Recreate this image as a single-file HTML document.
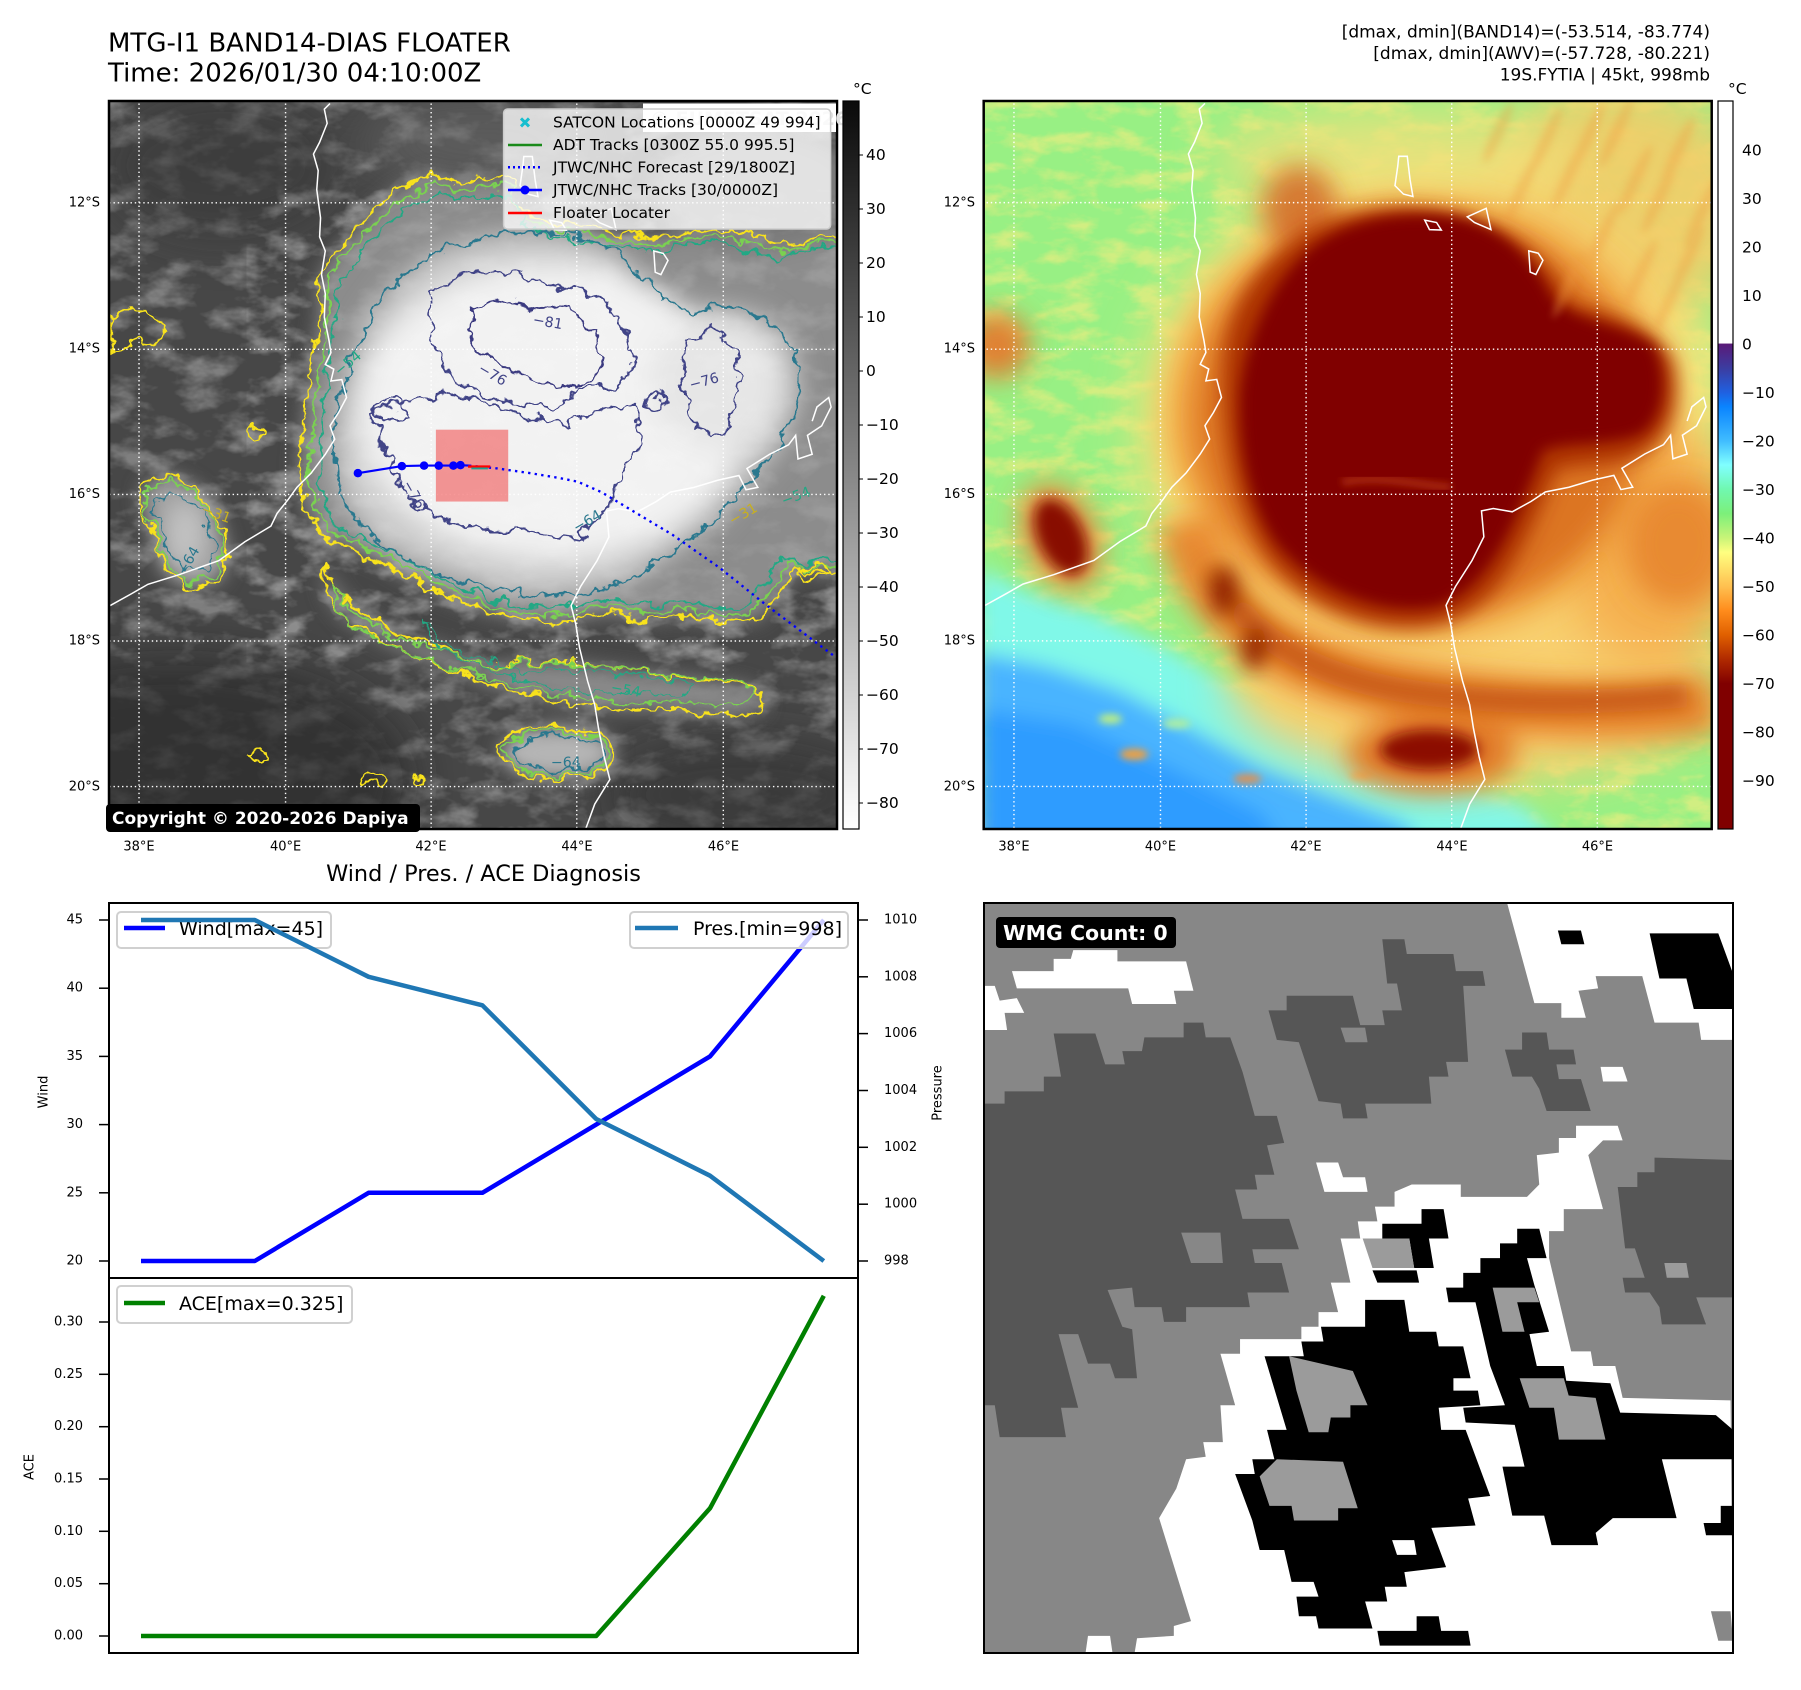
<!DOCTYPE html>
<html><head><meta charset="utf-8"><style>
html,body{margin:0;padding:0;background:#fff;}
svg{display:block;}
text{font-family:"DejaVu Sans","Liberation Sans",sans-serif;}
</style></head><body>
<svg width="1801" height="1690" viewBox="0 0 1801 1690" xmlns="http://www.w3.org/2000/svg">
<defs>
 <linearGradient id="gcb" x1="0" y1="0" x2="0" y2="1"><stop offset="0" stop-color="#0a0a0a"/><stop offset="1" stop-color="#ffffff"/></linearGradient>
 <linearGradient id="jcb" x1="0" y1="0" x2="0" y2="1">
  <stop offset="0" stop-color="#fff"/><stop offset="0.333" stop-color="#fff"/><stop offset="0.3335" stop-color="#5a1a78"/>
  <stop offset="0.3667" stop-color="#3c3ca0"/><stop offset="0.40" stop-color="#2060e0"/><stop offset="0.42" stop-color="#0a84ff"/>
  <stop offset="0.4667" stop-color="#40bcff"/><stop offset="0.50" stop-color="#80ffff"/><stop offset="0.5333" stop-color="#70f8b0"/>
  <stop offset="0.5667" stop-color="#7cf07a"/><stop offset="0.60" stop-color="#c8f478"/><stop offset="0.62" stop-color="#ffff80"/>
  <stop offset="0.6667" stop-color="#ffc050"/><stop offset="0.70" stop-color="#ff8c1c"/><stop offset="0.7333" stop-color="#e06000"/>
  <stop offset="0.7667" stop-color="#b02a00"/><stop offset="0.80" stop-color="#800000"/><stop offset="1" stop-color="#800000"/>
 </linearGradient>
 <filter id="b5" x="-30%" y="-30%" width="160%" height="160%"><feGaussianBlur stdDeviation="5"/></filter>
 <filter id="b8" x="-30%" y="-30%" width="160%" height="160%"><feGaussianBlur stdDeviation="8"/></filter>
 <filter id="b14" x="-30%" y="-30%" width="160%" height="160%"><feGaussianBlur stdDeviation="14"/></filter>
 <filter id="b20" x="-30%" y="-30%" width="160%" height="160%"><feGaussianBlur stdDeviation="20"/></filter>
 <filter id="b28" x="-30%" y="-30%" width="160%" height="160%"><feGaussianBlur stdDeviation="28"/></filter>
 <filter id="b35" x="-30%" y="-30%" width="160%" height="160%"><feGaussianBlur stdDeviation="35"/></filter>
 <filter id="b50" x="-40%" y="-40%" width="180%" height="180%"><feGaussianBlur stdDeviation="50"/></filter>
 <filter id="wig" x="-5%" y="-5%" width="110%" height="110%" color-interpolation-filters="sRGB">
  <feTurbulence type="fractalNoise" baseFrequency="0.03" numOctaves="3" seed="4" result="n"/>
  <feDisplacementMap in="SourceGraphic" in2="n" scale="40" xChannelSelector="R" yChannelSelector="G"/>
 </filter>
 <filter id="tx" x="0" y="0" width="1" height="1" color-interpolation-filters="sRGB">
  <feTurbulence type="fractalNoise" baseFrequency="0.012 0.02" numOctaves="4" seed="11"/>
  <feColorMatrix type="matrix" values="0 0 0 0 1  0 0 0 0 1  0 0 0 0 1  3 0 0 0 -1.35"/>
 </filter>
 <filter id="tx2" x="0" y="0" width="1" height="1" color-interpolation-filters="sRGB">
  <feTurbulence type="fractalNoise" baseFrequency="0.012 0.025" numOctaves="4" seed="5"/>
  <feColorMatrix type="matrix" values="0 0 0 0 0.97  0 0 0 0 0.93  0 0 0 0 0.5  3 0 0 0 -1.3"/>
 </filter>
 <path id="Y1" d="M455,470 L450,400 L480,340 L520,300 L570,240 L620,200 L690,165 L740,190 L790,175 L860,180 L870,240 L940,270 L1040,285 L1130,300 L1200,300 L1250,285 L1320,285 L1390,300 L1450,320 L1520,300 L1620,290 L1620,1000 L1520,1015 L1460,1000 L1430,1060 L1380,1110 L1300,1115 L1220,1100 L1140,1110 L1060,1095 L980,1115 L890,1110 L800,1090 L720,1060 L650,1025 L590,990 L520,960 L460,930 L420,870 L410,780 L420,700 L430,620 L440,540 Z"/>
 <path id="Y2" d="M460,990 L500,1060 L560,1110 L640,1150 L720,1170 L800,1210 L880,1200 L960,1200 L1040,1210 L1120,1220 L1200,1230 L1280,1240 L1360,1250 L1400,1280 L1380,1310 L1300,1310 L1200,1300 L1100,1300 L1000,1290 L900,1270 L820,1250 L740,1220 L660,1190 L580,1150 L510,1110 L470,1060 Z"/>
 <path id="T1" d="M500,620 L520,560 L560,470 L620,390 L700,330 L800,300 L900,290 L1000,300 L1080,330 L1150,400 L1220,460 L1300,450 L1400,470 L1460,540 L1470,640 L1430,740 L1360,820 L1290,900 L1200,970 L1100,1030 L1000,1055 L900,1060 L800,1040 L700,1010 L600,960 L530,900 L490,820 L480,720 Z"/>
 <path id="LB" d="M80,830 L130,800 L190,830 L240,900 L265,980 L240,1030 L175,1042 L125,1000 L100,920 L78,870 Z"/>
 <path id="COAST" d="M480,18 L468,30 L474,60 L458,100 L445,125 L455,160 L452,200 L460,260 L458,300 L470,330 L462,380 L470,420 L468,470 L478,520 L482,545 L470,570 L488,580 L482,605 L505,602 L515,640 L498,672 L480,700 L490,728 L470,760 L440,800 L410,830 L392,855 L368,885 L355,912 L300,945 L245,985 L160,1015 L95,1035 L60,1055 L15,1080 M1020,1555 L1040,1500 L1072,1448 L1060,1400 L1048,1340 L1040,1290 L1025,1240 L1008,1170 L1000,1120 L990,1080 L1010,1040 L1045,985 L1070,935 L1065,880 L1090,875 L1130,882 L1170,860 L1200,840 L1250,830 L1300,815 L1345,805 L1360,835 L1385,830 L1362,790 L1410,760 L1450,740 L1465,720 L1470,770 L1500,760 L1490,720 L1520,700 L1540,660 L1535,640 L1510,660 L1500,690 M890,130 L908,130 L914,180 L920,215 L900,210 L882,192 L888,150 Z M945,265 L970,270 L980,286 L955,285 Z M1035,258 L1075,240 L1085,285 L1050,270 Z M1165,330 L1185,335 L1195,350 L1180,380 L1168,375 Z"/>
 <g id="GRIDH" stroke="#fff" stroke-width="3" stroke-dasharray="3 6" fill="none">
  <line x1="0" y1="228" x2="1600" y2="228"/><line x1="0" y1="538" x2="1600" y2="538"/><line x1="0" y1="845" x2="1600" y2="845"/><line x1="0" y1="1155" x2="1600" y2="1155"/><line x1="0" y1="1463" x2="1600" y2="1463"/>
 </g>
</defs>

<!-- Titles -->
<text x="108" y="51.5" font-size="26">MTG-I1 BAND14-DIAS FLOATER</text>
<text x="108" y="81.5" font-size="26">Time: 2026/01/30 04:10:00Z</text>
<g font-size="17" text-anchor="end">
 <text x="1710" y="37.5">[dmax, dmin](BAND14)=(-53.514, -83.774)</text>
 <text x="1710" y="59">[dmax, dmin](AWV)=(-57.728, -80.221)</text>
 <text x="1710" y="80.5">19S.FYTIA | 45kt, 998mb</text>
</g>

<!-- LEFT MAP -->
<svg x="109" y="101" width="728" height="728" viewBox="8.5 12.7 1540 1540">
 <rect x="0" y="0" width="1600" height="1600" fill="#474747"/>
 <rect x="0" y="0" width="1600" height="1600" filter="url(#tx)" opacity="0.3"/>
 <g filter="url(#b50)">
  <ellipse cx="150" cy="1450" rx="500" ry="260" fill="#2a2a2a" opacity="0.7"/>
  <ellipse cx="1350" cy="1480" rx="300" ry="120" fill="#303030" opacity="0.6"/>
  <ellipse cx="250" cy="150" rx="250" ry="150" fill="#383838" opacity="0.6"/>
  <ellipse cx="800" cy="100" rx="250" ry="100" fill="#6a6a6a" opacity="0.6"/>
 </g>
 <g filter="url(#b20)">
  <use href="#Y1" fill="#8c8c8c"/>
  <use href="#Y2" fill="#8a8a8a"/>
  <ellipse cx="958" cy="1392" rx="120" ry="55" fill="#b5b5b5"/>
  <use href="#LB" fill="#9c9c9c"/>
  <ellipse cx="1380" cy="200" rx="220" ry="130" fill="#7a7a7a"/>
 </g>
 <g filter="url(#b28)">
  <use href="#T1" fill="#cdcdcd"/>
  <ellipse cx="945" cy="670" rx="410" ry="310" fill="#f2f2f2"/>
  <ellipse cx="1290" cy="610" rx="140" ry="140" fill="#e6e6e6"/>
  <ellipse cx="170" cy="930" rx="45" ry="80" fill="#c4c4c4"/>
 </g>
 <rect x="300" y="200" width="1300" height="1000" filter="url(#tx)" opacity="0.12"/>
 <g filter="url(#wig)" fill="none" stroke-width="4.5" stroke-linejoin="round">
  <use href="#Y1" stroke="#f8e21c"/>
  <use href="#Y1" stroke="#7ad151" transform="translate(980 700) scale(0.965) translate(-980 -700)"/>
  <use href="#Y1" stroke="#22a884" transform="translate(980 700) scale(0.93) translate(-980 -700)"/>
  <use href="#T1" stroke="#2a788e"/>
  <use href="#Y2" stroke="#f8e21c"/>
  <use href="#Y2" stroke="#7ad151" transform="translate(930 1210) scale(0.95 0.8) translate(-930 -1210)"/>
  <use href="#Y2" stroke="#22a884" transform="translate(1000 1230) scale(0.6 0.5) translate(-1000 -1230)"/>
  <ellipse cx="958" cy="1392" rx="122" ry="55" stroke="#f8e21c"/>
  <ellipse cx="958" cy="1392" rx="110" ry="47" stroke="#7ad151"/>
  <ellipse cx="962" cy="1392" rx="92" ry="36" stroke="#2a788e"/>
  <use href="#LB" stroke="#f8e21c"/>
  <use href="#LB" stroke="#7ad151" transform="translate(170 920) scale(0.9) translate(-170 -920)"/>
  <use href="#LB" stroke="#2a788e" transform="translate(170 930) scale(0.7) translate(-170 -930)"/>
  <path stroke="#414487" d="M690,420 L760,380 L860,370 L920,400 L1000,410 L1060,440 L1100,500 L1120,560 L1100,600 L1060,620 L1000,620 L950,660 L880,650 L800,640 L740,600 L700,540 L680,470 Z"/>
  <path stroke="#414487" d="M560,670 L640,650 L720,630 L800,650 L900,680 L980,700 L1060,660 L1120,660 L1140,740 L1090,800 L1060,880 L1000,940 L940,930 L880,920 L800,920 L720,900 L660,870 L620,820 L600,760 Z"/>
  <path stroke="#414487" d="M1230,520 L1290,490 L1330,540 L1340,620 L1320,700 L1280,730 L1240,690 L1220,600 Z"/>
  <path stroke="#3b3a80" d="M780,450 L850,430 L900,460 L980,450 L1040,500 L1050,560 L1030,610 L960,620 L900,600 L850,580 L790,540 L770,500 Z"/>
  <path stroke="#414487" d="M560,660 L620,645 L640,680 L590,690 Z"/>
  <circle cx="1165" cy="650" r="20" stroke="#414487"/>
  <path stroke="#f8e21c" d="M10,470 L60,450 L100,470 L130,500 L110,530 L60,520 L20,560 Z"/>
  <ellipse cx="320" cy="712" rx="18" ry="10" stroke="#f8e21c"/>
  <ellipse cx="325" cy="1398" rx="20" ry="12" stroke="#f8e21c"/>
  <ellipse cx="570" cy="1447" rx="25" ry="10" stroke="#f8e21c"/>
  <ellipse cx="668" cy="1450" rx="15" ry="8" stroke="#f8e21c"/>
  <ellipse cx="1500" cy="1010" rx="30" ry="12" stroke="#f8e21c"/>
 </g>
 <g font-size="30" text-anchor="middle">
  <text x="935" y="490" fill="#414487" transform="rotate(10 935 490)">−81</text>
  <text x="815" y="600" fill="#414487" transform="rotate(30 815 600)">−76</text>
  <text x="1270" y="615" fill="#414487" transform="rotate(-15 1270 615)">−76</text>
  <text x="645" y="850" fill="#414487" transform="rotate(60 645 850)">−76</text>
  <text x="520" y="575" fill="#22a884" transform="rotate(-40 520 575)">−54</text>
  <text x="975" y="1422" fill="#2a788e">−64</text>
  <text x="1100" y="1268" fill="#22a884" transform="rotate(10 1100 1268)">−54</text>
  <text x="1025" y="910" fill="#2a788e" transform="rotate(-30 1025 910)">−64</text>
  <text x="1355" y="895" fill="#c8b020" transform="rotate(-30 1355 895)">−31</text>
  <text x="1465" y="858" fill="#22a884" transform="rotate(-20 1465 858)">−54</text>
  <text x="232" y="895" fill="#c8b020" transform="rotate(20 232 895)">−31</text>
  <text x="185" y="990" fill="#2a788e" transform="rotate(-60 185 990)">−64</text>
 </g>
 <g stroke="#fff" stroke-width="3" stroke-dasharray="3 6">
  <line x1="72" y1="0" x2="72" y2="1600"/><line x1="382" y1="0" x2="382" y2="1600"/><line x1="690" y1="0" x2="690" y2="1600"/><line x1="998" y1="0" x2="998" y2="1600"/><line x1="1308" y1="0" x2="1308" y2="1600"/>
 </g>
 <use href="#GRIDH"/>
 <use href="#COAST" fill="none" stroke="#fff" stroke-width="3.2" transform="translate(-4 0)"/>
 <rect x="700" y="708" width="153" height="152" fill="rgb(240,70,70)" fill-opacity="0.55"/>
 <polyline points="770,784 830,790 900,800 960,810 1000,818 1050,840 1100,870 1200,930 1300,1000 1400,1080 1480,1140 1560,1200" fill="none" stroke="#0000ff" stroke-width="5" stroke-dasharray="5 9"/>
 <polyline points="535,800 628,785 675,784 706,784 737,784 752,783 770,784" fill="none" stroke="#0000ff" stroke-width="4.5"/>
 <g fill="#0000ff"><circle cx="535" cy="800" r="9"/><circle cx="628" cy="785" r="9"/><circle cx="675" cy="784" r="9"/><circle cx="706" cy="784" r="9"/><circle cx="737" cy="784" r="9"/><circle cx="752" cy="783" r="9"/></g>
 <line x1="768" y1="786" x2="815" y2="786" stroke="#ff0000" stroke-width="5"/>
 <line x1="775" y1="790" x2="810" y2="790" stroke="#20a090" stroke-width="4"/>
</svg>
<rect x="109" y="101" width="728" height="728" fill="none" stroke="#000" stroke-width="2.5"/>
<!-- watermark + legend -->
<rect x="643" y="103.5" width="193" height="28.5" fill="#fff"/>
<text x="650" y="125" font-size="19" font-weight="bold" fill="#e2e2e2">© EUMETSAT 2026</text>
<rect x="503.6" y="109" width="327" height="120" rx="4" fill="#fff" fill-opacity="0.78" stroke="#cccccc" stroke-width="1.5"/>
<g stroke-width="2.5">
 <line x1="521" y1="118.4" x2="529" y2="126.4" stroke="#17becf" stroke-width="3"/><line x1="529" y1="118.4" x2="521" y2="126.4" stroke="#17becf" stroke-width="3"/>
 <line x1="508" y1="145" x2="542" y2="145" stroke="#1a8a1a"/>
 <line x1="508" y1="167.3" x2="542" y2="167.3" stroke="#0000ff" stroke-dasharray="2 3"/>
 <line x1="508" y1="190" x2="542" y2="190" stroke="#0000ff"/><circle cx="525" cy="190" r="4.5" fill="#0000ff" stroke="none"/>
 <line x1="508" y1="213" x2="542" y2="213" stroke="#ff0000"/>
</g>
<g font-size="15.5" dominant-baseline="central">
 <text x="553" y="122.4">SATCON Locations [0000Z 49 994]</text>
 <text x="553" y="145">ADT Tracks [0300Z 55.0 995.5]</text>
 <text x="553" y="167.3">JTWC/NHC Forecast [29/1800Z]</text>
 <text x="553" y="190">JTWC/NHC Tracks [30/0000Z]</text>
 <text x="553" y="213">Floater Locater</text>
</g>
<rect x="106" y="804" width="314" height="28" rx="4" fill="#000"/>
<text x="112" y="824" font-size="17" font-weight="bold" fill="#fff">Copyright © 2020-2026 Dapiya</text>

<!-- map ticks -->
<g font-size="13" text-anchor="end" dominant-baseline="central">
 <text x="100" y="203">12°S</text><text x="100" y="349">14°S</text><text x="100" y="494.5">16°S</text><text x="100" y="641">18°S</text><text x="100" y="787">20°S</text>
 <text x="975" y="203">12°S</text><text x="975" y="349">14°S</text><text x="975" y="494.5">16°S</text><text x="975" y="641">18°S</text><text x="975" y="787">20°S</text>
</g>
<g font-size="13" text-anchor="middle" dominant-baseline="central">
 <text x="139" y="847">38°E</text><text x="285.6" y="847">40°E</text><text x="431" y="847">42°E</text><text x="577" y="847">44°E</text><text x="723.5" y="847">46°E</text>
 <text x="1014" y="847">38°E</text><text x="1160.5" y="847">40°E</text><text x="1306" y="847">42°E</text><text x="1452" y="847">44°E</text><text x="1597.5" y="847">46°E</text>
</g>

<!-- left colorbar -->
<rect x="843" y="101" width="16" height="728" fill="url(#gcb)" stroke="#000" stroke-width="1.2"/>
<text x="853" y="94" font-size="15.5">°C</text>
<g stroke="#000" stroke-width="1">
 <line x1="859" y1="155" x2="863" y2="155"/><line x1="859" y1="209" x2="863" y2="209"/><line x1="859" y1="263" x2="863" y2="263"/><line x1="859" y1="317" x2="863" y2="317"/><line x1="859" y1="371" x2="863" y2="371"/><line x1="859" y1="425" x2="863" y2="425"/><line x1="859" y1="479" x2="863" y2="479"/><line x1="859" y1="533" x2="863" y2="533"/><line x1="859" y1="587" x2="863" y2="587"/><line x1="859" y1="641" x2="863" y2="641"/><line x1="859" y1="695" x2="863" y2="695"/><line x1="859" y1="749" x2="863" y2="749"/><line x1="859" y1="803" x2="863" y2="803"/>
</g>
<g font-size="15.5" dominant-baseline="central">
 <text x="866" y="155">40</text><text x="866" y="209">30</text><text x="866" y="263">20</text><text x="866" y="317">10</text><text x="866" y="371">0</text><text x="866" y="425">−10</text><text x="866" y="479">−20</text><text x="866" y="533">−30</text><text x="866" y="587">−40</text><text x="866" y="641">−50</text><text x="866" y="695">−60</text><text x="866" y="749">−70</text><text x="866" y="803">−80</text>
</g>

<!-- RIGHT MAP -->
<svg x="983.7" y="101" width="728" height="728" viewBox="12 13 1540 1540">
 <rect x="0" y="0" width="1600" height="1600" fill="#98f084"/>
 <rect x="0" y="0" width="1600" height="1600" filter="url(#tx2)" opacity="0.6"/>
 <g filter="url(#b20)">
  <path d="M0,1000 L100,1050 L250,1100 L400,1170 L550,1260 L700,1330 L850,1400 L1000,1450 L1150,1500 L1250,1600 L0,1600 Z" fill="#80f8e8"/>
  <path d="M0,1180 L150,1210 L300,1260 L450,1340 L600,1420 L750,1480 L900,1540 L950,1600 L0,1600 Z" fill="#48b4ff"/>
  <path d="M0,1300 L200,1330 L400,1420 L600,1520 L650,1600 L0,1600 Z" fill="#2d9cff"/>
 </g>
 <g filter="url(#b8)">
  <ellipse cx="330" cy="1395" rx="30" ry="12" fill="#f0a040"/>
  <ellipse cx="280" cy="1320" rx="25" ry="10" fill="#c0f080"/>
  <ellipse cx="570" cy="1447" rx="30" ry="10" fill="#e09050"/>
  <ellipse cx="810" cy="1440" rx="25" ry="8" fill="#f0b060"/>
  <ellipse cx="420" cy="1330" rx="30" ry="10" fill="#b0f0a0"/>
 </g>
 <g filter="url(#b50)">
  <ellipse cx="960" cy="700" rx="620" ry="540" fill="#fbe27a"/>
  <ellipse cx="1050" cy="1250" rx="520" ry="200" fill="#f8d070"/>
  <ellipse cx="1430" cy="950" rx="200" ry="260" fill="#f5b050"/>
  <ellipse cx="1350" cy="230" rx="300" ry="250" fill="#f4cc68" opacity="0.9"/>
  <ellipse cx="880" cy="140" rx="380" ry="110" fill="#f2e07a" opacity="0.8"/>
 </g>
 <g filter="url(#b35)">
  <ellipse cx="930" cy="680" rx="530" ry="460" fill="#f0a040"/>
 </g>
 <g filter="url(#b28)">
  <ellipse cx="930" cy="680" rx="470" ry="420" fill="#dc7422"/>
  <path d="M440,900 C470,1080 620,1200 850,1250 C1050,1290 1300,1320 1560,1290" fill="none" stroke="#e88028" stroke-width="120" opacity="0.9"/>
  <ellipse cx="960" cy="1395" rx="180" ry="80" fill="#e07828"/>
  <ellipse cx="175" cy="935" rx="80" ry="120" fill="#e89040" transform="rotate(-25 175 935)"/>
  <ellipse cx="40" cy="530" rx="70" ry="70" fill="#e08030"/>
  <ellipse cx="1480" cy="950" rx="110" ry="130" fill="#e88a30"/>
  <ellipse cx="680" cy="240" rx="80" ry="90" fill="#d06020" opacity="0.8"/>
 </g>
 <g filter="url(#b20)">
  <path d="M500,1000 C560,1150 720,1230 900,1260 C1100,1290 1300,1290 1500,1270" fill="none" stroke="#c05010" stroke-width="50" opacity="0.85"/>
  <path d="M520,580 C520,420 640,290 800,250 C1000,210 1200,300 1250,440 C1330,460 1420,480 1470,560 C1500,680 1440,750 1380,770 C1280,790 1230,780 1220,800 C1160,940 1110,1090 970,1120 C820,1150 660,1060 600,960 C540,860 515,720 520,580 Z" fill="#ac3004"/>
  <ellipse cx="520" cy="1050" rx="30" ry="50" fill="#902000"/>
  <ellipse cx="585" cy="1170" rx="25" ry="45" fill="#902000"/>
 </g>
 <g filter="url(#b14)">
  <path d="M555,630 C565,530 615,395 712,318 C790,262 900,245 1000,258 C1095,272 1170,335 1215,430 C1270,485 1370,485 1428,530 C1460,595 1452,685 1400,718 C1325,745 1250,730 1195,752 C1145,875 1095,1035 978,1080 C855,1108 712,1045 632,950 C575,870 550,750 555,630 Z" fill="#800000"/>
  <ellipse cx="955" cy="1385" rx="105" ry="42" fill="#8c0c00"/>
  <ellipse cx="175" cy="935" rx="48" ry="86" fill="#880800" transform="rotate(-25 175 935)"/>
 </g>
 <g filter="url(#b8)">
  <path d="M770,820 C850,800 950,830 1000,830" fill="none" stroke="#c04010" stroke-width="18" opacity="0.6"/>
 </g>
 <g filter="url(#b8)" fill="#ee9a40" opacity="0.35">
  <ellipse cx="1200" cy="100" rx="12" ry="80" transform="rotate(25 1200 100)"/>
  <ellipse cx="1250" cy="170" rx="12" ry="80" transform="rotate(25 1250 170)"/>
  <ellipse cx="1290" cy="90" rx="12" ry="80" transform="rotate(25 1290 90)"/>
  <ellipse cx="1350" cy="80" rx="12" ry="80" transform="rotate(25 1350 80)"/>
  <ellipse cx="1390" cy="180" rx="12" ry="80" transform="rotate(25 1390 180)"/>
  <ellipse cx="1440" cy="220" rx="12" ry="80" transform="rotate(25 1440 220)"/>
  <ellipse cx="1480" cy="120" rx="12" ry="80" transform="rotate(25 1480 120)"/>
  <ellipse cx="1320" cy="300" rx="12" ry="80" transform="rotate(25 1320 300)"/>
  <ellipse cx="1400" cy="380" rx="12" ry="80" transform="rotate(25 1400 380)"/>
  <ellipse cx="1500" cy="350" rx="12" ry="80" transform="rotate(25 1500 350)"/>
  <ellipse cx="1250" cy="400" rx="12" ry="80" transform="rotate(25 1250 400)"/>
  <ellipse cx="1530" cy="250" rx="12" ry="80" transform="rotate(25 1530 250)"/>
  <ellipse cx="1150" cy="200" rx="12" ry="80" transform="rotate(25 1150 200)"/>
  <ellipse cx="1100" cy="80" rx="12" ry="70" transform="rotate(25 1100 80)"/>
  <ellipse cx="1460" cy="440" rx="12" ry="70" transform="rotate(25 1460 440)"/>
 </g>
 <g stroke="#fff" stroke-width="3" stroke-dasharray="3 6">
  <line x1="76" y1="0" x2="76" y2="1600"/><line x1="386" y1="0" x2="386" y2="1600"/><line x1="694" y1="0" x2="694" y2="1600"/><line x1="1002" y1="0" x2="1002" y2="1600"/><line x1="1310" y1="0" x2="1310" y2="1600"/>
 </g>
 <use href="#GRIDH"/>
 <use href="#COAST" fill="none" stroke="#fff" stroke-width="3.2"/>
</svg>
<rect x="983.7" y="101" width="728" height="728" fill="none" stroke="#000" stroke-width="2.5"/>

<!-- right colorbar -->
<rect x="1718" y="101" width="15" height="728" fill="url(#jcb)" stroke="#000" stroke-width="1.2"/>
<text x="1728" y="94" font-size="15.5">°C</text>
<g font-size="15.5" dominant-baseline="central">
 <text x="1742" y="150.6">40</text><text x="1742" y="199.1">30</text><text x="1742" y="247.6">20</text><text x="1742" y="296.1">10</text><text x="1742" y="344.6">0</text><text x="1742" y="393.1">−10</text><text x="1742" y="441.6">−20</text><text x="1742" y="490.1">−30</text><text x="1742" y="538.6">−40</text><text x="1742" y="587.1">−50</text><text x="1742" y="635.6">−60</text><text x="1742" y="684.1">−70</text><text x="1742" y="732.6">−80</text><text x="1742" y="781.1">−90</text>
</g>

<!-- Diagnosis -->
<text x="483.5" y="881" font-size="22.4" text-anchor="middle">Wind / Pres. / ACE Diagnosis</text>
<polyline points="141,1261 254.8,1261 368.6,1192.8 482.4,1192.8 596.2,1124.6 710,1056.4 823.8,920" fill="none" stroke="#0000ff" stroke-width="4.5" stroke-linejoin="round"/>
<rect x="117" y="912" width="214" height="36" rx="4" fill="#fff" fill-opacity="0.8" stroke="#d0d0d0" stroke-width="2"/>
<line x1="124" y1="928" x2="165" y2="928" stroke="#0000ff" stroke-width="4.5"/>
<text x="179" y="929" font-size="19" dominant-baseline="central">Wind[max=45]</text>
<polyline points="141,920 254.8,920 368.6,976.8 482.4,1005.3 596.2,1119 710,1175.7 823.8,1261" fill="none" stroke="#1f77b4" stroke-width="4.5" stroke-linejoin="round"/>
<rect x="630" y="912" width="218" height="36" rx="4" fill="#fff" fill-opacity="0.8" stroke="#d0d0d0" stroke-width="2"/>
<line x1="635" y1="928" x2="678" y2="928" stroke="#1f77b4" stroke-width="4.5"/>
<text x="693" y="929" font-size="19" dominant-baseline="central">Pres.[min=998]</text>
<rect x="109" y="903" width="749" height="375" fill="none" stroke="#000" stroke-width="2"/>
<g stroke="#000" stroke-width="1.5">
 <line x1="99" y1="1261" x2="109" y2="1261"/><line x1="99" y1="1192.8" x2="109" y2="1192.8"/><line x1="99" y1="1124.6" x2="109" y2="1124.6"/><line x1="99" y1="1056.4" x2="109" y2="1056.4"/><line x1="99" y1="988.2" x2="109" y2="988.2"/><line x1="99" y1="920" x2="109" y2="920"/>
 <line x1="858" y1="1261" x2="868" y2="1261"/><line x1="858" y1="1204.2" x2="868" y2="1204.2"/><line x1="858" y1="1147.3" x2="868" y2="1147.3"/><line x1="858" y1="1090.5" x2="868" y2="1090.5"/><line x1="858" y1="1033.6" x2="868" y2="1033.6"/><line x1="858" y1="976.8" x2="868" y2="976.8"/><line x1="858" y1="920" x2="868" y2="920"/>
 <line x1="99" y1="1636" x2="109" y2="1636"/><line x1="99" y1="1583.7" x2="109" y2="1583.7"/><line x1="99" y1="1531.3" x2="109" y2="1531.3"/><line x1="99" y1="1479" x2="109" y2="1479"/><line x1="99" y1="1426.7" x2="109" y2="1426.7"/><line x1="99" y1="1374.3" x2="109" y2="1374.3"/><line x1="99" y1="1322" x2="109" y2="1322"/>
</g>
<g font-size="13" text-anchor="end" dominant-baseline="central">
 <text x="83" y="1261">20</text><text x="83" y="1192.8">25</text><text x="83" y="1124.6">30</text><text x="83" y="1056.4">35</text><text x="83" y="988.2">40</text><text x="83" y="920">45</text>
 <text x="83" y="1636">0.00</text><text x="83" y="1583.7">0.05</text><text x="83" y="1531.3">0.10</text><text x="83" y="1479">0.15</text><text x="83" y="1426.7">0.20</text><text x="83" y="1374.3">0.25</text><text x="83" y="1322">0.30</text>
</g>
<g font-size="13" dominant-baseline="central">
 <text x="884" y="1261">998</text><text x="884" y="1204.2">1000</text><text x="884" y="1147.3">1002</text><text x="884" y="1090.5">1004</text><text x="884" y="1033.6">1006</text><text x="884" y="976.8">1008</text><text x="884" y="920">1010</text>
</g>
<text x="44" y="1092" font-size="13" text-anchor="middle" dominant-baseline="central" transform="rotate(-90 44 1092)">Wind</text>
<text x="938" y="1093" font-size="13" text-anchor="middle" dominant-baseline="central" transform="rotate(-90 938 1093)">Pressure</text>
<text x="30" y="1467" font-size="13" text-anchor="middle" dominant-baseline="central" transform="rotate(-90 30 1467)">ACE</text>

<polyline points="141,1636 254.8,1636 368.6,1636 482.4,1636 596.2,1636 710,1508.3 823.8,1295.8" fill="none" stroke="#008000" stroke-width="4.5" stroke-linejoin="round"/>
<rect x="117" y="1286" width="235" height="37" rx="4" fill="#fff" fill-opacity="0.8" stroke="#d0d0d0" stroke-width="2"/>
<line x1="124" y1="1303" x2="165" y2="1303" stroke="#008000" stroke-width="4.5"/>
<text x="179" y="1304" font-size="19" dominant-baseline="central">ACE[max=0.325]</text>
<rect x="109" y="1278" width="749" height="375" fill="none" stroke="#000" stroke-width="2"/>

<!-- WMG -->
<svg x="984" y="903" width="749" height="750" viewBox="18 16 1527 1529" preserveAspectRatio="none">
 <rect x="0" y="0" width="1600" height="1600" fill="#878787"/>
 <g fill="#fff">
  <path d="M1085,18 L1545,18 L1545,295 L1480,295 L1475,260 L1385,260 L1360,165 L1265,165 L1270,190 L1230,195 L1245,250 L1195,250 L1195,220 L1140,220 Z"/>
  <path d="M75,155 L160,155 L160,130 L195,130 L200,112 L290,112 L290,135 L430,135 L445,195 L405,195 L410,222 L320,222 L312,190 L85,190 Z"/>
  <path d="M18,185 L40,185 L50,215 L85,210 L100,240 L60,240 L65,275 L18,275 Z"/>
  <path d="M695,545 L740,545 L750,575 L795,575 L800,605 L712,605 Z"/>
  <path d="M1275,350 L1320,350 L1330,380 L1280,380 Z"/>
  <path d="M855,605 L890,590 L990,590 L990,615 L1125,615 L1150,590 L1145,530 L1190,525 L1190,495 L1225,495 L1225,470 L1310,470 L1320,500 L1280,500 L1250,530 L1280,640 L1200,640 L1200,685 L1170,685 L1170,740 L1215,930 L1255,930 L1260,960 L1305,960 L1320,1025 L1540,1030 L1545,1545 L325,1545 L330,1515 L405,1510 L405,1490 L440,1480 L375,1270 L410,1210 L430,1150 L470,1145 L465,1115 L505,1115 L500,1040 L530,1040 L500,935 L540,935 L540,905 L665,905 L665,880 L700,880 L700,850 L740,850 L725,790 L765,790 L745,700 L785,700 L780,665 L820,665 L815,635 L855,635 Z"/>
  <path d="M230,1510 L275,1510 L280,1545 L225,1545 Z"/>
 </g>
 <path d="M1500,1460 L1540,1460 L1545,1520 L1515,1520 Z" fill="#878787"/>
 <g fill="#565656">
  <path d="M18,425 L60,425 L60,400 L140,400 L140,370 L175,370 L160,282 L245,282 L265,345 L305,345 L300,318 L340,318 L345,290 L425,290 L425,260 L465,260 L470,290 L520,290 L545,360 L570,450 L615,450 L630,505 L595,510 L610,570 L570,570 L575,600 L530,600 L545,660 L640,660 L660,722 L565,722 L570,750 L625,750 L640,810 L555,810 L560,840 L430,840 L430,870 L385,870 L380,840 L325,840 L320,800 L270,805 L300,880 L320,885 L330,985 L285,985 L275,955 L230,955 L210,895 L170,895 L210,1045 L175,1045 L185,1105 L50,1105 L40,1040 L18,1040 Z"/>
  <path d="M830,90 L875,90 L880,120 L975,120 L980,155 L1035,155 L1040,185 L995,185 L1005,340 L960,340 L965,370 L925,370 L930,425 L795,425 L800,455 L750,455 L745,425 L700,420 L660,300 L615,295 L598,235 L635,235 L635,205 L770,205 L785,265 L835,265 L830,235 L870,235 L860,180 L840,180 Z"/>
  <path d="M1080,315 L1115,315 L1115,280 L1165,280 L1170,315 L1220,315 L1225,345 L1185,345 L1190,375 L1235,375 L1255,440 L1165,440 L1150,395 L1135,370 L1095,370 Z"/>
  <path d="M1310,595 L1350,595 L1350,565 L1385,565 L1385,535 L1545,540 L1545,820 L1470,820 L1490,875 L1400,875 L1395,840 L1375,810 L1325,810 L1320,780 L1365,780 L1345,720 L1325,720 Z"/>
 </g>
 <g fill="#878787">
  <path d="M420,688 L500,688 L505,750 L440,750 Z"/>
  <path d="M745,270 L795,270 L800,300 L755,300 Z"/>
 </g>
 <g fill="#000">
  <path d="M1375,78 L1515,78 L1545,160 L1545,232 L1465,232 L1450,170 L1395,170 Z"/>
  <path d="M1188,72 L1235,72 L1242,100 L1195,100 Z"/>
  <path d="M830,670 L910,670 L910,640 L955,640 L965,700 L925,700 L935,760 L895,760 L885,700 L830,700 Z"/>
  <path d="M810,765 L900,765 L905,790 L820,790 Z"/>
  <path d="M590,940 L670,940 L665,910 L710,910 L705,880 L795,880 L795,825 L875,825 L885,890 L940,890 L945,920 L995,920 L1010,985 L975,985 L975,1010 L1025,1010 L1030,1040 L945,1045 L950,1090 L1000,1090 L1050,1225 L1005,1230 L1020,1285 L930,1290 L960,1370 L875,1380 L880,1410 L835,1410 L840,1440 L795,1440 L810,1495 L700,1495 L695,1470 L660,1470 L655,1430 L700,1430 L690,1400 L645,1400 L630,1335 L580,1335 L565,1275 L530,1180 L570,1180 L565,1150 L610,1150 L595,1090 L635,1090 Z"/>
  <path d="M960,800 L995,800 L995,770 L1030,770 L1030,740 L1070,740 L1070,710 L1105,710 L1105,680 L1150,680 L1165,740 L1125,740 L1140,795 L1170,890 L1130,895 L1145,960 L1200,960 L1205,990 L1295,995 L1315,1055 L1510,1060 L1545,1090 L1545,1150 L1400,1150 L1430,1270 L1300,1270 L1265,1300 L1270,1325 L1175,1325 L1160,1265 L1095,1265 L1075,1165 L1120,1165 L1100,1080 L1000,1075 L995,1045 L1080,1040 L1050,960 L1020,830 L965,830 Z"/>
  <path d="M820,1500 L900,1500 L900,1470 L945,1470 L950,1500 L1005,1500 L1010,1530 L825,1530 Z"/>
  <path d="M1485,1280 L1520,1280 L1520,1245 L1545,1245 L1545,1305 L1490,1305 Z"/>
 </g>
 <path d="M850,1315 L895,1315 L900,1345 L860,1345 Z" fill="#fff"/>
 <g fill="#9b9b9b">
  <path d="M1055,800 L1140,800 L1150,830 L1105,830 L1120,890 L1075,890 Z"/>
  <path d="M1110,985 L1200,985 L1210,1020 L1265,1025 L1285,1110 L1190,1110 L1180,1045 L1130,1045 Z"/>
  <path d="M640,940 L770,970 L800,1040 L765,1040 L765,1065 L725,1065 L720,1095 L680,1095 L655,1010 Z"/>
  <path d="M615,1150 L750,1155 L780,1250 L740,1250 L740,1275 L650,1275 L645,1245 L600,1245 L580,1185 Z"/>
  <path d="M790,700 L885,700 L895,760 L810,760 Z"/>
  <path d="M1405,750 L1450,750 L1455,780 L1410,780 Z"/>
 </g>
</svg>
<rect x="984" y="903" width="749" height="750" fill="none" stroke="#000" stroke-width="2"/>
<rect x="996" y="917" width="180" height="31" rx="4" fill="#000"/>
<text x="1003" y="940" font-size="20.5" font-weight="bold" fill="#fff">WMG Count: 0</text>
</svg>
</body></html>
